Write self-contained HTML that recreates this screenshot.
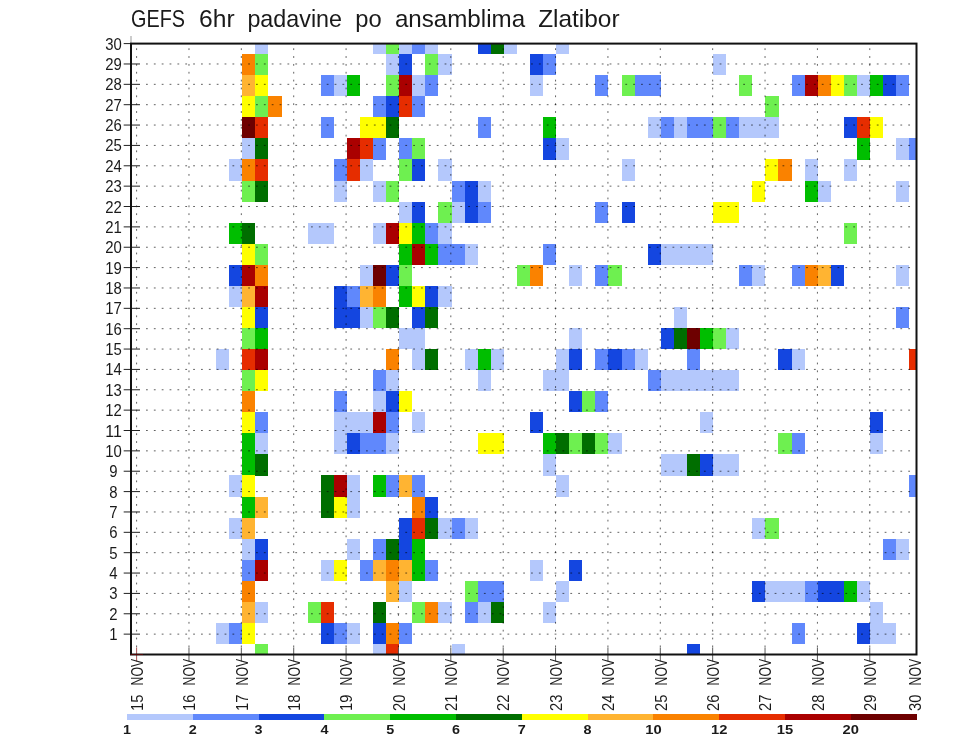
<!DOCTYPE html>
<html><head><meta charset="utf-8"><title>GEFS 6hr padavine po ansamblima Zlatibor</title>
<style>html,body{margin:0;padding:0;background:#fff}svg{display:block}text{font-family:"Liberation Sans",sans-serif;fill:#1a1a1a}</style></head><body>
<svg width="960" height="742" viewBox="0 0 960 742">
<rect width="960" height="742" fill="#fff"/>
<clipPath id="cp"><rect x="131.0" y="43.6" width="785.5" height="610.9"/></clipPath>
<g clip-path="url(#cp)" shape-rendering="crispEdges">
<rect x="255.33" y="33.07" width="13.13" height="21.12" fill="#b4c8fc"/>
<rect x="373.03" y="33.07" width="13.13" height="21.12" fill="#b4c8fc"/>
<rect x="386.11" y="33.07" width="13.13" height="21.12" fill="#6ef050"/>
<rect x="399.19" y="33.07" width="13.13" height="21.12" fill="#b4c8fc"/>
<rect x="412.26" y="33.07" width="13.13" height="21.12" fill="#6088fc"/>
<rect x="425.34" y="33.07" width="13.13" height="21.12" fill="#b4c8fc"/>
<rect x="477.65" y="33.07" width="13.13" height="21.12" fill="#1446e0"/>
<rect x="490.73" y="33.07" width="13.13" height="21.12" fill="#006e00"/>
<rect x="503.81" y="33.07" width="13.13" height="21.12" fill="#b4c8fc"/>
<rect x="556.12" y="33.07" width="13.13" height="21.12" fill="#b4c8fc"/>
<rect x="242.25" y="54.13" width="13.13" height="21.12" fill="#fa8200"/>
<rect x="255.33" y="54.13" width="13.13" height="21.12" fill="#6ef050"/>
<rect x="386.11" y="54.13" width="13.13" height="21.12" fill="#b4c8fc"/>
<rect x="399.19" y="54.13" width="13.13" height="21.12" fill="#1446e0"/>
<rect x="425.34" y="54.13" width="13.13" height="21.12" fill="#6ef050"/>
<rect x="438.42" y="54.13" width="13.13" height="21.12" fill="#b4c8fc"/>
<rect x="529.97" y="54.13" width="13.13" height="21.12" fill="#1446e0"/>
<rect x="543.04" y="54.13" width="13.13" height="21.12" fill="#6088fc"/>
<rect x="713.06" y="54.13" width="13.13" height="21.12" fill="#b4c8fc"/>
<rect x="242.25" y="75.20" width="13.13" height="21.12" fill="#ffb432"/>
<rect x="255.33" y="75.20" width="13.13" height="21.12" fill="#ffff00"/>
<rect x="320.72" y="75.20" width="13.13" height="21.12" fill="#6088fc"/>
<rect x="333.80" y="75.20" width="13.13" height="21.12" fill="#b4c8fc"/>
<rect x="346.87" y="75.20" width="13.13" height="21.12" fill="#00be00"/>
<rect x="386.11" y="75.20" width="13.13" height="21.12" fill="#6ef050"/>
<rect x="399.19" y="75.20" width="13.13" height="21.12" fill="#aa0000"/>
<rect x="412.26" y="75.20" width="13.13" height="21.12" fill="#b4c8fc"/>
<rect x="425.34" y="75.20" width="13.13" height="21.12" fill="#6088fc"/>
<rect x="529.97" y="75.20" width="13.13" height="21.12" fill="#b4c8fc"/>
<rect x="595.36" y="75.20" width="13.13" height="21.12" fill="#6088fc"/>
<rect x="621.51" y="75.20" width="13.13" height="21.12" fill="#6ef050"/>
<rect x="634.59" y="75.20" width="13.13" height="21.12" fill="#6088fc"/>
<rect x="647.67" y="75.20" width="13.13" height="21.12" fill="#6088fc"/>
<rect x="739.21" y="75.20" width="13.13" height="21.12" fill="#6ef050"/>
<rect x="791.53" y="75.20" width="13.13" height="21.12" fill="#6088fc"/>
<rect x="804.60" y="75.20" width="13.13" height="21.12" fill="#aa0000"/>
<rect x="817.68" y="75.20" width="13.13" height="21.12" fill="#fa8200"/>
<rect x="830.76" y="75.20" width="13.13" height="21.12" fill="#ffff00"/>
<rect x="843.84" y="75.20" width="13.13" height="21.12" fill="#6ef050"/>
<rect x="856.92" y="75.20" width="13.13" height="21.12" fill="#b4c8fc"/>
<rect x="869.99" y="75.20" width="13.13" height="21.12" fill="#00be00"/>
<rect x="883.07" y="75.20" width="13.13" height="21.12" fill="#1446e0"/>
<rect x="896.15" y="75.20" width="13.13" height="21.12" fill="#6088fc"/>
<rect x="242.25" y="96.26" width="13.13" height="21.12" fill="#ffff00"/>
<rect x="255.33" y="96.26" width="13.13" height="21.12" fill="#6ef050"/>
<rect x="268.41" y="96.26" width="13.13" height="21.12" fill="#fa8200"/>
<rect x="373.03" y="96.26" width="13.13" height="21.12" fill="#6088fc"/>
<rect x="386.11" y="96.26" width="13.13" height="21.12" fill="#1446e0"/>
<rect x="399.19" y="96.26" width="13.13" height="21.12" fill="#e62d00"/>
<rect x="412.26" y="96.26" width="13.13" height="21.12" fill="#6088fc"/>
<rect x="765.37" y="96.26" width="13.13" height="21.12" fill="#6ef050"/>
<rect x="242.25" y="117.33" width="13.13" height="21.12" fill="#6e0000"/>
<rect x="255.33" y="117.33" width="13.13" height="21.12" fill="#e62d00"/>
<rect x="320.72" y="117.33" width="13.13" height="21.12" fill="#6088fc"/>
<rect x="359.95" y="117.33" width="13.13" height="21.12" fill="#ffff00"/>
<rect x="373.03" y="117.33" width="13.13" height="21.12" fill="#ffff00"/>
<rect x="386.11" y="117.33" width="13.13" height="21.12" fill="#006e00"/>
<rect x="477.65" y="117.33" width="13.13" height="21.12" fill="#6088fc"/>
<rect x="543.04" y="117.33" width="13.13" height="21.12" fill="#00be00"/>
<rect x="647.67" y="117.33" width="13.13" height="21.12" fill="#b4c8fc"/>
<rect x="660.75" y="117.33" width="13.13" height="21.12" fill="#6088fc"/>
<rect x="673.82" y="117.33" width="13.13" height="21.12" fill="#b4c8fc"/>
<rect x="686.90" y="117.33" width="13.13" height="21.12" fill="#6088fc"/>
<rect x="699.98" y="117.33" width="13.13" height="21.12" fill="#6088fc"/>
<rect x="713.06" y="117.33" width="13.13" height="21.12" fill="#6ef050"/>
<rect x="726.14" y="117.33" width="13.13" height="21.12" fill="#6088fc"/>
<rect x="739.21" y="117.33" width="13.13" height="21.12" fill="#b4c8fc"/>
<rect x="752.29" y="117.33" width="13.13" height="21.12" fill="#b4c8fc"/>
<rect x="765.37" y="117.33" width="13.13" height="21.12" fill="#b4c8fc"/>
<rect x="843.84" y="117.33" width="13.13" height="21.12" fill="#1446e0"/>
<rect x="856.92" y="117.33" width="13.13" height="21.12" fill="#e62d00"/>
<rect x="869.99" y="117.33" width="13.13" height="21.12" fill="#ffff00"/>
<rect x="242.25" y="138.39" width="13.13" height="21.12" fill="#b4c8fc"/>
<rect x="255.33" y="138.39" width="13.13" height="21.12" fill="#006e00"/>
<rect x="346.87" y="138.39" width="13.13" height="21.12" fill="#aa0000"/>
<rect x="359.95" y="138.39" width="13.13" height="21.12" fill="#e62d00"/>
<rect x="373.03" y="138.39" width="13.13" height="21.12" fill="#6088fc"/>
<rect x="399.19" y="138.39" width="13.13" height="21.12" fill="#6088fc"/>
<rect x="412.26" y="138.39" width="13.13" height="21.12" fill="#6ef050"/>
<rect x="543.04" y="138.39" width="13.13" height="21.12" fill="#1446e0"/>
<rect x="556.12" y="138.39" width="13.13" height="21.12" fill="#b4c8fc"/>
<rect x="856.92" y="138.39" width="13.13" height="21.12" fill="#00be00"/>
<rect x="896.15" y="138.39" width="13.13" height="21.12" fill="#b4c8fc"/>
<rect x="909.23" y="138.39" width="13.13" height="21.12" fill="#6088fc"/>
<rect x="229.17" y="159.46" width="13.13" height="21.12" fill="#b4c8fc"/>
<rect x="242.25" y="159.46" width="13.13" height="21.12" fill="#fa8200"/>
<rect x="255.33" y="159.46" width="13.13" height="21.12" fill="#e62d00"/>
<rect x="333.80" y="159.46" width="13.13" height="21.12" fill="#6088fc"/>
<rect x="346.87" y="159.46" width="13.13" height="21.12" fill="#e62d00"/>
<rect x="359.95" y="159.46" width="13.13" height="21.12" fill="#b4c8fc"/>
<rect x="399.19" y="159.46" width="13.13" height="21.12" fill="#6ef050"/>
<rect x="412.26" y="159.46" width="13.13" height="21.12" fill="#1446e0"/>
<rect x="438.42" y="159.46" width="13.13" height="21.12" fill="#b4c8fc"/>
<rect x="621.51" y="159.46" width="13.13" height="21.12" fill="#b4c8fc"/>
<rect x="765.37" y="159.46" width="13.13" height="21.12" fill="#ffff00"/>
<rect x="778.45" y="159.46" width="13.13" height="21.12" fill="#fa8200"/>
<rect x="804.60" y="159.46" width="13.13" height="21.12" fill="#b4c8fc"/>
<rect x="843.84" y="159.46" width="13.13" height="21.12" fill="#b4c8fc"/>
<rect x="242.25" y="180.53" width="13.13" height="21.12" fill="#6ef050"/>
<rect x="255.33" y="180.53" width="13.13" height="21.12" fill="#006e00"/>
<rect x="333.80" y="180.53" width="13.13" height="21.12" fill="#b4c8fc"/>
<rect x="373.03" y="180.53" width="13.13" height="21.12" fill="#b4c8fc"/>
<rect x="386.11" y="180.53" width="13.13" height="21.12" fill="#6ef050"/>
<rect x="451.50" y="180.53" width="13.13" height="21.12" fill="#6088fc"/>
<rect x="464.58" y="180.53" width="13.13" height="21.12" fill="#1446e0"/>
<rect x="477.65" y="180.53" width="13.13" height="21.12" fill="#b4c8fc"/>
<rect x="752.29" y="180.53" width="13.13" height="21.12" fill="#ffff00"/>
<rect x="804.60" y="180.53" width="13.13" height="21.12" fill="#00be00"/>
<rect x="817.68" y="180.53" width="13.13" height="21.12" fill="#b4c8fc"/>
<rect x="896.15" y="180.53" width="13.13" height="21.12" fill="#b4c8fc"/>
<rect x="399.19" y="201.59" width="13.13" height="21.12" fill="#b4c8fc"/>
<rect x="412.26" y="201.59" width="13.13" height="21.12" fill="#1446e0"/>
<rect x="438.42" y="201.59" width="13.13" height="21.12" fill="#6ef050"/>
<rect x="451.50" y="201.59" width="13.13" height="21.12" fill="#b4c8fc"/>
<rect x="464.58" y="201.59" width="13.13" height="21.12" fill="#1446e0"/>
<rect x="477.65" y="201.59" width="13.13" height="21.12" fill="#6088fc"/>
<rect x="595.36" y="201.59" width="13.13" height="21.12" fill="#6088fc"/>
<rect x="621.51" y="201.59" width="13.13" height="21.12" fill="#1446e0"/>
<rect x="713.06" y="201.59" width="13.13" height="21.12" fill="#ffff00"/>
<rect x="726.14" y="201.59" width="13.13" height="21.12" fill="#ffff00"/>
<rect x="229.17" y="222.66" width="13.13" height="21.12" fill="#00be00"/>
<rect x="242.25" y="222.66" width="13.13" height="21.12" fill="#006e00"/>
<rect x="307.64" y="222.66" width="13.13" height="21.12" fill="#b4c8fc"/>
<rect x="320.72" y="222.66" width="13.13" height="21.12" fill="#b4c8fc"/>
<rect x="373.03" y="222.66" width="13.13" height="21.12" fill="#b4c8fc"/>
<rect x="386.11" y="222.66" width="13.13" height="21.12" fill="#aa0000"/>
<rect x="399.19" y="222.66" width="13.13" height="21.12" fill="#ffff00"/>
<rect x="412.26" y="222.66" width="13.13" height="21.12" fill="#00be00"/>
<rect x="425.34" y="222.66" width="13.13" height="21.12" fill="#6088fc"/>
<rect x="438.42" y="222.66" width="13.13" height="21.12" fill="#b4c8fc"/>
<rect x="843.84" y="222.66" width="13.13" height="21.12" fill="#6ef050"/>
<rect x="242.25" y="243.72" width="13.13" height="21.12" fill="#ffff00"/>
<rect x="255.33" y="243.72" width="13.13" height="21.12" fill="#6ef050"/>
<rect x="399.19" y="243.72" width="13.13" height="21.12" fill="#00be00"/>
<rect x="412.26" y="243.72" width="13.13" height="21.12" fill="#aa0000"/>
<rect x="425.34" y="243.72" width="13.13" height="21.12" fill="#00be00"/>
<rect x="438.42" y="243.72" width="13.13" height="21.12" fill="#6088fc"/>
<rect x="451.50" y="243.72" width="13.13" height="21.12" fill="#6088fc"/>
<rect x="464.58" y="243.72" width="13.13" height="21.12" fill="#b4c8fc"/>
<rect x="543.04" y="243.72" width="13.13" height="21.12" fill="#6088fc"/>
<rect x="647.67" y="243.72" width="13.13" height="21.12" fill="#1446e0"/>
<rect x="660.75" y="243.72" width="13.13" height="21.12" fill="#b4c8fc"/>
<rect x="673.82" y="243.72" width="13.13" height="21.12" fill="#b4c8fc"/>
<rect x="686.90" y="243.72" width="13.13" height="21.12" fill="#b4c8fc"/>
<rect x="699.98" y="243.72" width="13.13" height="21.12" fill="#b4c8fc"/>
<rect x="229.17" y="264.79" width="13.13" height="21.12" fill="#1446e0"/>
<rect x="242.25" y="264.79" width="13.13" height="21.12" fill="#aa0000"/>
<rect x="255.33" y="264.79" width="13.13" height="21.12" fill="#fa8200"/>
<rect x="359.95" y="264.79" width="13.13" height="21.12" fill="#b4c8fc"/>
<rect x="373.03" y="264.79" width="13.13" height="21.12" fill="#6e0000"/>
<rect x="386.11" y="264.79" width="13.13" height="21.12" fill="#1446e0"/>
<rect x="399.19" y="264.79" width="13.13" height="21.12" fill="#6ef050"/>
<rect x="516.89" y="264.79" width="13.13" height="21.12" fill="#6ef050"/>
<rect x="529.97" y="264.79" width="13.13" height="21.12" fill="#fa8200"/>
<rect x="569.20" y="264.79" width="13.13" height="21.12" fill="#b4c8fc"/>
<rect x="595.36" y="264.79" width="13.13" height="21.12" fill="#6088fc"/>
<rect x="608.43" y="264.79" width="13.13" height="21.12" fill="#6ef050"/>
<rect x="739.21" y="264.79" width="13.13" height="21.12" fill="#6088fc"/>
<rect x="752.29" y="264.79" width="13.13" height="21.12" fill="#b4c8fc"/>
<rect x="791.53" y="264.79" width="13.13" height="21.12" fill="#6088fc"/>
<rect x="804.60" y="264.79" width="13.13" height="21.12" fill="#fa8200"/>
<rect x="817.68" y="264.79" width="13.13" height="21.12" fill="#ffb432"/>
<rect x="830.76" y="264.79" width="13.13" height="21.12" fill="#1446e0"/>
<rect x="896.15" y="264.79" width="13.13" height="21.12" fill="#b4c8fc"/>
<rect x="229.17" y="285.85" width="13.13" height="21.12" fill="#b4c8fc"/>
<rect x="242.25" y="285.85" width="13.13" height="21.12" fill="#ffb432"/>
<rect x="255.33" y="285.85" width="13.13" height="21.12" fill="#aa0000"/>
<rect x="333.80" y="285.85" width="13.13" height="21.12" fill="#1446e0"/>
<rect x="346.87" y="285.85" width="13.13" height="21.12" fill="#6088fc"/>
<rect x="359.95" y="285.85" width="13.13" height="21.12" fill="#ffb432"/>
<rect x="373.03" y="285.85" width="13.13" height="21.12" fill="#fa8200"/>
<rect x="399.19" y="285.85" width="13.13" height="21.12" fill="#00be00"/>
<rect x="412.26" y="285.85" width="13.13" height="21.12" fill="#ffff00"/>
<rect x="425.34" y="285.85" width="13.13" height="21.12" fill="#1446e0"/>
<rect x="438.42" y="285.85" width="13.13" height="21.12" fill="#b4c8fc"/>
<rect x="242.25" y="306.92" width="13.13" height="21.12" fill="#ffff00"/>
<rect x="255.33" y="306.92" width="13.13" height="21.12" fill="#1446e0"/>
<rect x="333.80" y="306.92" width="13.13" height="21.12" fill="#1446e0"/>
<rect x="346.87" y="306.92" width="13.13" height="21.12" fill="#1446e0"/>
<rect x="359.95" y="306.92" width="13.13" height="21.12" fill="#b4c8fc"/>
<rect x="373.03" y="306.92" width="13.13" height="21.12" fill="#6ef050"/>
<rect x="386.11" y="306.92" width="13.13" height="21.12" fill="#006e00"/>
<rect x="412.26" y="306.92" width="13.13" height="21.12" fill="#1446e0"/>
<rect x="425.34" y="306.92" width="13.13" height="21.12" fill="#006e00"/>
<rect x="673.82" y="306.92" width="13.13" height="21.12" fill="#b4c8fc"/>
<rect x="896.15" y="306.92" width="13.13" height="21.12" fill="#6088fc"/>
<rect x="242.25" y="327.98" width="13.13" height="21.12" fill="#6ef050"/>
<rect x="255.33" y="327.98" width="13.13" height="21.12" fill="#00be00"/>
<rect x="399.19" y="327.98" width="13.13" height="21.12" fill="#b4c8fc"/>
<rect x="412.26" y="327.98" width="13.13" height="21.12" fill="#b4c8fc"/>
<rect x="569.20" y="327.98" width="13.13" height="21.12" fill="#b4c8fc"/>
<rect x="660.75" y="327.98" width="13.13" height="21.12" fill="#1446e0"/>
<rect x="673.82" y="327.98" width="13.13" height="21.12" fill="#006e00"/>
<rect x="686.90" y="327.98" width="13.13" height="21.12" fill="#6e0000"/>
<rect x="699.98" y="327.98" width="13.13" height="21.12" fill="#00be00"/>
<rect x="713.06" y="327.98" width="13.13" height="21.12" fill="#6ef050"/>
<rect x="726.14" y="327.98" width="13.13" height="21.12" fill="#b4c8fc"/>
<rect x="216.09" y="349.05" width="13.13" height="21.12" fill="#b4c8fc"/>
<rect x="242.25" y="349.05" width="13.13" height="21.12" fill="#e62d00"/>
<rect x="255.33" y="349.05" width="13.13" height="21.12" fill="#aa0000"/>
<rect x="386.11" y="349.05" width="13.13" height="21.12" fill="#fa8200"/>
<rect x="412.26" y="349.05" width="13.13" height="21.12" fill="#b4c8fc"/>
<rect x="425.34" y="349.05" width="13.13" height="21.12" fill="#006e00"/>
<rect x="464.58" y="349.05" width="13.13" height="21.12" fill="#b4c8fc"/>
<rect x="477.65" y="349.05" width="13.13" height="21.12" fill="#00be00"/>
<rect x="490.73" y="349.05" width="13.13" height="21.12" fill="#b4c8fc"/>
<rect x="556.12" y="349.05" width="13.13" height="21.12" fill="#b4c8fc"/>
<rect x="569.20" y="349.05" width="13.13" height="21.12" fill="#1446e0"/>
<rect x="595.36" y="349.05" width="13.13" height="21.12" fill="#6088fc"/>
<rect x="608.43" y="349.05" width="13.13" height="21.12" fill="#1446e0"/>
<rect x="621.51" y="349.05" width="13.13" height="21.12" fill="#6088fc"/>
<rect x="634.59" y="349.05" width="13.13" height="21.12" fill="#b4c8fc"/>
<rect x="686.90" y="349.05" width="13.13" height="21.12" fill="#6088fc"/>
<rect x="778.45" y="349.05" width="13.13" height="21.12" fill="#1446e0"/>
<rect x="791.53" y="349.05" width="13.13" height="21.12" fill="#b4c8fc"/>
<rect x="909.23" y="349.05" width="13.13" height="21.12" fill="#e62d00"/>
<rect x="242.25" y="370.12" width="13.13" height="21.12" fill="#6ef050"/>
<rect x="255.33" y="370.12" width="13.13" height="21.12" fill="#ffff00"/>
<rect x="373.03" y="370.12" width="13.13" height="21.12" fill="#6088fc"/>
<rect x="386.11" y="370.12" width="13.13" height="21.12" fill="#b4c8fc"/>
<rect x="477.65" y="370.12" width="13.13" height="21.12" fill="#b4c8fc"/>
<rect x="543.04" y="370.12" width="13.13" height="21.12" fill="#b4c8fc"/>
<rect x="556.12" y="370.12" width="13.13" height="21.12" fill="#b4c8fc"/>
<rect x="647.67" y="370.12" width="13.13" height="21.12" fill="#6088fc"/>
<rect x="660.75" y="370.12" width="13.13" height="21.12" fill="#b4c8fc"/>
<rect x="673.82" y="370.12" width="13.13" height="21.12" fill="#b4c8fc"/>
<rect x="686.90" y="370.12" width="13.13" height="21.12" fill="#b4c8fc"/>
<rect x="699.98" y="370.12" width="13.13" height="21.12" fill="#b4c8fc"/>
<rect x="713.06" y="370.12" width="13.13" height="21.12" fill="#b4c8fc"/>
<rect x="726.14" y="370.12" width="13.13" height="21.12" fill="#b4c8fc"/>
<rect x="242.25" y="391.18" width="13.13" height="21.12" fill="#fa8200"/>
<rect x="333.80" y="391.18" width="13.13" height="21.12" fill="#6088fc"/>
<rect x="373.03" y="391.18" width="13.13" height="21.12" fill="#b4c8fc"/>
<rect x="386.11" y="391.18" width="13.13" height="21.12" fill="#1446e0"/>
<rect x="399.19" y="391.18" width="13.13" height="21.12" fill="#ffff00"/>
<rect x="569.20" y="391.18" width="13.13" height="21.12" fill="#1446e0"/>
<rect x="582.28" y="391.18" width="13.13" height="21.12" fill="#6ef050"/>
<rect x="595.36" y="391.18" width="13.13" height="21.12" fill="#6088fc"/>
<rect x="242.25" y="412.25" width="13.13" height="21.12" fill="#ffff00"/>
<rect x="255.33" y="412.25" width="13.13" height="21.12" fill="#6088fc"/>
<rect x="333.80" y="412.25" width="13.13" height="21.12" fill="#b4c8fc"/>
<rect x="346.87" y="412.25" width="13.13" height="21.12" fill="#b4c8fc"/>
<rect x="359.95" y="412.25" width="13.13" height="21.12" fill="#b4c8fc"/>
<rect x="373.03" y="412.25" width="13.13" height="21.12" fill="#aa0000"/>
<rect x="386.11" y="412.25" width="13.13" height="21.12" fill="#6088fc"/>
<rect x="412.26" y="412.25" width="13.13" height="21.12" fill="#b4c8fc"/>
<rect x="529.97" y="412.25" width="13.13" height="21.12" fill="#1446e0"/>
<rect x="699.98" y="412.25" width="13.13" height="21.12" fill="#b4c8fc"/>
<rect x="869.99" y="412.25" width="13.13" height="21.12" fill="#1446e0"/>
<rect x="242.25" y="433.31" width="13.13" height="21.12" fill="#00be00"/>
<rect x="255.33" y="433.31" width="13.13" height="21.12" fill="#b4c8fc"/>
<rect x="333.80" y="433.31" width="13.13" height="21.12" fill="#b4c8fc"/>
<rect x="346.87" y="433.31" width="13.13" height="21.12" fill="#1446e0"/>
<rect x="359.95" y="433.31" width="13.13" height="21.12" fill="#6088fc"/>
<rect x="373.03" y="433.31" width="13.13" height="21.12" fill="#6088fc"/>
<rect x="386.11" y="433.31" width="13.13" height="21.12" fill="#b4c8fc"/>
<rect x="477.65" y="433.31" width="13.13" height="21.12" fill="#ffff00"/>
<rect x="490.73" y="433.31" width="13.13" height="21.12" fill="#ffff00"/>
<rect x="543.04" y="433.31" width="13.13" height="21.12" fill="#00be00"/>
<rect x="556.12" y="433.31" width="13.13" height="21.12" fill="#006e00"/>
<rect x="569.20" y="433.31" width="13.13" height="21.12" fill="#6ef050"/>
<rect x="582.28" y="433.31" width="13.13" height="21.12" fill="#006e00"/>
<rect x="595.36" y="433.31" width="13.13" height="21.12" fill="#6ef050"/>
<rect x="608.43" y="433.31" width="13.13" height="21.12" fill="#b4c8fc"/>
<rect x="778.45" y="433.31" width="13.13" height="21.12" fill="#6ef050"/>
<rect x="791.53" y="433.31" width="13.13" height="21.12" fill="#6088fc"/>
<rect x="869.99" y="433.31" width="13.13" height="21.12" fill="#b4c8fc"/>
<rect x="242.25" y="454.38" width="13.13" height="21.12" fill="#00be00"/>
<rect x="255.33" y="454.38" width="13.13" height="21.12" fill="#006e00"/>
<rect x="543.04" y="454.38" width="13.13" height="21.12" fill="#b4c8fc"/>
<rect x="660.75" y="454.38" width="13.13" height="21.12" fill="#b4c8fc"/>
<rect x="673.82" y="454.38" width="13.13" height="21.12" fill="#b4c8fc"/>
<rect x="686.90" y="454.38" width="13.13" height="21.12" fill="#006e00"/>
<rect x="699.98" y="454.38" width="13.13" height="21.12" fill="#1446e0"/>
<rect x="713.06" y="454.38" width="13.13" height="21.12" fill="#b4c8fc"/>
<rect x="726.14" y="454.38" width="13.13" height="21.12" fill="#b4c8fc"/>
<rect x="229.17" y="475.44" width="13.13" height="21.12" fill="#b4c8fc"/>
<rect x="242.25" y="475.44" width="13.13" height="21.12" fill="#ffff00"/>
<rect x="320.72" y="475.44" width="13.13" height="21.12" fill="#006e00"/>
<rect x="333.80" y="475.44" width="13.13" height="21.12" fill="#aa0000"/>
<rect x="346.87" y="475.44" width="13.13" height="21.12" fill="#b4c8fc"/>
<rect x="373.03" y="475.44" width="13.13" height="21.12" fill="#00be00"/>
<rect x="386.11" y="475.44" width="13.13" height="21.12" fill="#6088fc"/>
<rect x="399.19" y="475.44" width="13.13" height="21.12" fill="#ffb432"/>
<rect x="412.26" y="475.44" width="13.13" height="21.12" fill="#6088fc"/>
<rect x="556.12" y="475.44" width="13.13" height="21.12" fill="#b4c8fc"/>
<rect x="909.23" y="475.44" width="13.13" height="21.12" fill="#6088fc"/>
<rect x="242.25" y="496.51" width="13.13" height="21.12" fill="#00be00"/>
<rect x="255.33" y="496.51" width="13.13" height="21.12" fill="#ffb432"/>
<rect x="320.72" y="496.51" width="13.13" height="21.12" fill="#006e00"/>
<rect x="333.80" y="496.51" width="13.13" height="21.12" fill="#ffff00"/>
<rect x="346.87" y="496.51" width="13.13" height="21.12" fill="#b4c8fc"/>
<rect x="412.26" y="496.51" width="13.13" height="21.12" fill="#fa8200"/>
<rect x="425.34" y="496.51" width="13.13" height="21.12" fill="#1446e0"/>
<rect x="229.17" y="517.57" width="13.13" height="21.12" fill="#b4c8fc"/>
<rect x="242.25" y="517.57" width="13.13" height="21.12" fill="#ffb432"/>
<rect x="399.19" y="517.57" width="13.13" height="21.12" fill="#1446e0"/>
<rect x="412.26" y="517.57" width="13.13" height="21.12" fill="#e62d00"/>
<rect x="425.34" y="517.57" width="13.13" height="21.12" fill="#006e00"/>
<rect x="438.42" y="517.57" width="13.13" height="21.12" fill="#b4c8fc"/>
<rect x="451.50" y="517.57" width="13.13" height="21.12" fill="#6088fc"/>
<rect x="464.58" y="517.57" width="13.13" height="21.12" fill="#b4c8fc"/>
<rect x="752.29" y="517.57" width="13.13" height="21.12" fill="#b4c8fc"/>
<rect x="765.37" y="517.57" width="13.13" height="21.12" fill="#6ef050"/>
<rect x="242.25" y="538.64" width="13.13" height="21.12" fill="#b4c8fc"/>
<rect x="255.33" y="538.64" width="13.13" height="21.12" fill="#1446e0"/>
<rect x="346.87" y="538.64" width="13.13" height="21.12" fill="#b4c8fc"/>
<rect x="373.03" y="538.64" width="13.13" height="21.12" fill="#6088fc"/>
<rect x="386.11" y="538.64" width="13.13" height="21.12" fill="#006e00"/>
<rect x="399.19" y="538.64" width="13.13" height="21.12" fill="#1446e0"/>
<rect x="412.26" y="538.64" width="13.13" height="21.12" fill="#00be00"/>
<rect x="883.07" y="538.64" width="13.13" height="21.12" fill="#6088fc"/>
<rect x="896.15" y="538.64" width="13.13" height="21.12" fill="#b4c8fc"/>
<rect x="242.25" y="559.71" width="13.13" height="21.12" fill="#6088fc"/>
<rect x="255.33" y="559.71" width="13.13" height="21.12" fill="#aa0000"/>
<rect x="320.72" y="559.71" width="13.13" height="21.12" fill="#b4c8fc"/>
<rect x="333.80" y="559.71" width="13.13" height="21.12" fill="#ffff00"/>
<rect x="359.95" y="559.71" width="13.13" height="21.12" fill="#6088fc"/>
<rect x="373.03" y="559.71" width="13.13" height="21.12" fill="#ffb432"/>
<rect x="386.11" y="559.71" width="13.13" height="21.12" fill="#fa8200"/>
<rect x="399.19" y="559.71" width="13.13" height="21.12" fill="#ffb432"/>
<rect x="412.26" y="559.71" width="13.13" height="21.12" fill="#00be00"/>
<rect x="425.34" y="559.71" width="13.13" height="21.12" fill="#6088fc"/>
<rect x="529.97" y="559.71" width="13.13" height="21.12" fill="#b4c8fc"/>
<rect x="569.20" y="559.71" width="13.13" height="21.12" fill="#1446e0"/>
<rect x="242.25" y="580.77" width="13.13" height="21.12" fill="#fa8200"/>
<rect x="386.11" y="580.77" width="13.13" height="21.12" fill="#ffb432"/>
<rect x="399.19" y="580.77" width="13.13" height="21.12" fill="#b4c8fc"/>
<rect x="464.58" y="580.77" width="13.13" height="21.12" fill="#6ef050"/>
<rect x="477.65" y="580.77" width="13.13" height="21.12" fill="#6088fc"/>
<rect x="490.73" y="580.77" width="13.13" height="21.12" fill="#6088fc"/>
<rect x="556.12" y="580.77" width="13.13" height="21.12" fill="#b4c8fc"/>
<rect x="752.29" y="580.77" width="13.13" height="21.12" fill="#1446e0"/>
<rect x="765.37" y="580.77" width="13.13" height="21.12" fill="#b4c8fc"/>
<rect x="778.45" y="580.77" width="13.13" height="21.12" fill="#b4c8fc"/>
<rect x="791.53" y="580.77" width="13.13" height="21.12" fill="#b4c8fc"/>
<rect x="804.60" y="580.77" width="13.13" height="21.12" fill="#6088fc"/>
<rect x="817.68" y="580.77" width="13.13" height="21.12" fill="#1446e0"/>
<rect x="830.76" y="580.77" width="13.13" height="21.12" fill="#1446e0"/>
<rect x="843.84" y="580.77" width="13.13" height="21.12" fill="#00be00"/>
<rect x="856.92" y="580.77" width="13.13" height="21.12" fill="#b4c8fc"/>
<rect x="242.25" y="601.84" width="13.13" height="21.12" fill="#ffb432"/>
<rect x="255.33" y="601.84" width="13.13" height="21.12" fill="#b4c8fc"/>
<rect x="307.64" y="601.84" width="13.13" height="21.12" fill="#6ef050"/>
<rect x="320.72" y="601.84" width="13.13" height="21.12" fill="#e62d00"/>
<rect x="373.03" y="601.84" width="13.13" height="21.12" fill="#006e00"/>
<rect x="412.26" y="601.84" width="13.13" height="21.12" fill="#6ef050"/>
<rect x="425.34" y="601.84" width="13.13" height="21.12" fill="#fa8200"/>
<rect x="438.42" y="601.84" width="13.13" height="21.12" fill="#b4c8fc"/>
<rect x="464.58" y="601.84" width="13.13" height="21.12" fill="#6088fc"/>
<rect x="477.65" y="601.84" width="13.13" height="21.12" fill="#b4c8fc"/>
<rect x="490.73" y="601.84" width="13.13" height="21.12" fill="#006e00"/>
<rect x="543.04" y="601.84" width="13.13" height="21.12" fill="#b4c8fc"/>
<rect x="869.99" y="601.84" width="13.13" height="21.12" fill="#b4c8fc"/>
<rect x="216.09" y="622.90" width="13.13" height="21.12" fill="#b4c8fc"/>
<rect x="229.17" y="622.90" width="13.13" height="21.12" fill="#6088fc"/>
<rect x="242.25" y="622.90" width="13.13" height="21.12" fill="#ffff00"/>
<rect x="320.72" y="622.90" width="13.13" height="21.12" fill="#1446e0"/>
<rect x="333.80" y="622.90" width="13.13" height="21.12" fill="#6088fc"/>
<rect x="346.87" y="622.90" width="13.13" height="21.12" fill="#b4c8fc"/>
<rect x="373.03" y="622.90" width="13.13" height="21.12" fill="#1446e0"/>
<rect x="386.11" y="622.90" width="13.13" height="21.12" fill="#fa8200"/>
<rect x="399.19" y="622.90" width="13.13" height="21.12" fill="#6088fc"/>
<rect x="791.53" y="622.90" width="13.13" height="21.12" fill="#6088fc"/>
<rect x="856.92" y="622.90" width="13.13" height="21.12" fill="#1446e0"/>
<rect x="869.99" y="622.90" width="13.13" height="21.12" fill="#b4c8fc"/>
<rect x="883.07" y="622.90" width="13.13" height="21.12" fill="#b4c8fc"/>
<rect x="255.33" y="643.97" width="13.13" height="21.12" fill="#6ef050"/>
<rect x="373.03" y="643.97" width="13.13" height="21.12" fill="#b4c8fc"/>
<rect x="386.11" y="643.97" width="13.13" height="21.12" fill="#e62d00"/>
<rect x="451.50" y="643.97" width="13.13" height="21.12" fill="#b4c8fc"/>
<rect x="686.90" y="643.97" width="13.13" height="21.12" fill="#1446e0"/>
</g>
<g stroke="#000" stroke-opacity="0.62" stroke-width="1" fill="none">
<line x1="146.0" y1="634.14" x2="915.5" y2="634.14" stroke-dasharray="1.8 6.058"/>
<line x1="146.0" y1="613.77" x2="915.5" y2="613.77" stroke-dasharray="1.8 6.058"/>
<line x1="146.0" y1="593.41" x2="915.5" y2="593.41" stroke-dasharray="1.8 6.058"/>
<line x1="146.0" y1="573.05" x2="915.5" y2="573.05" stroke-dasharray="1.8 6.058"/>
<line x1="146.0" y1="552.68" x2="915.5" y2="552.68" stroke-dasharray="1.8 6.058"/>
<line x1="146.0" y1="532.32" x2="915.5" y2="532.32" stroke-dasharray="1.8 6.058"/>
<line x1="146.0" y1="511.96" x2="915.5" y2="511.96" stroke-dasharray="1.8 6.058"/>
<line x1="146.0" y1="491.60" x2="915.5" y2="491.60" stroke-dasharray="1.8 6.058"/>
<line x1="146.0" y1="471.23" x2="915.5" y2="471.23" stroke-dasharray="1.8 6.058"/>
<line x1="146.0" y1="450.87" x2="915.5" y2="450.87" stroke-dasharray="1.8 6.058"/>
<line x1="146.0" y1="430.51" x2="915.5" y2="430.51" stroke-dasharray="1.8 6.058"/>
<line x1="146.0" y1="410.14" x2="915.5" y2="410.14" stroke-dasharray="1.8 6.058"/>
<line x1="146.0" y1="389.78" x2="915.5" y2="389.78" stroke-dasharray="1.8 6.058"/>
<line x1="146.0" y1="369.42" x2="915.5" y2="369.42" stroke-dasharray="1.8 6.058"/>
<line x1="146.0" y1="349.06" x2="915.5" y2="349.06" stroke-dasharray="1.8 6.058"/>
<line x1="146.0" y1="328.69" x2="915.5" y2="328.69" stroke-dasharray="1.8 6.058"/>
<line x1="146.0" y1="308.33" x2="915.5" y2="308.33" stroke-dasharray="1.8 6.058"/>
<line x1="146.0" y1="287.97" x2="915.5" y2="287.97" stroke-dasharray="1.8 6.058"/>
<line x1="146.0" y1="267.60" x2="915.5" y2="267.60" stroke-dasharray="1.8 6.058"/>
<line x1="146.0" y1="247.24" x2="915.5" y2="247.24" stroke-dasharray="1.8 6.058"/>
<line x1="146.0" y1="226.88" x2="915.5" y2="226.88" stroke-dasharray="1.8 6.058"/>
<line x1="146.0" y1="206.51" x2="915.5" y2="206.51" stroke-dasharray="1.8 6.058"/>
<line x1="146.0" y1="186.15" x2="915.5" y2="186.15" stroke-dasharray="1.8 6.058"/>
<line x1="146.0" y1="165.79" x2="915.5" y2="165.79" stroke-dasharray="1.8 6.058"/>
<line x1="146.0" y1="145.43" x2="915.5" y2="145.43" stroke-dasharray="1.8 6.058"/>
<line x1="146.0" y1="125.06" x2="915.5" y2="125.06" stroke-dasharray="1.8 6.058"/>
<line x1="146.0" y1="104.70" x2="915.5" y2="104.70" stroke-dasharray="1.8 6.058"/>
<line x1="146.0" y1="84.34" x2="915.5" y2="84.34" stroke-dasharray="1.8 6.058"/>
<line x1="146.0" y1="63.97" x2="915.5" y2="63.97" stroke-dasharray="1.8 6.058"/>
<line x1="136.60" y1="48.25" x2="136.60" y2="648" stroke-dasharray="1.8 6.058"/>
<line x1="188.97" y1="48.25" x2="188.97" y2="648" stroke-dasharray="1.8 6.058"/>
<line x1="241.34" y1="48.25" x2="241.34" y2="648" stroke-dasharray="1.8 6.058"/>
<line x1="293.71" y1="48.25" x2="293.71" y2="648" stroke-dasharray="1.8 6.058"/>
<line x1="346.08" y1="48.25" x2="346.08" y2="648" stroke-dasharray="1.8 6.058"/>
<line x1="398.45" y1="48.25" x2="398.45" y2="648" stroke-dasharray="1.8 6.058"/>
<line x1="450.82" y1="48.25" x2="450.82" y2="648" stroke-dasharray="1.8 6.058"/>
<line x1="503.19" y1="48.25" x2="503.19" y2="648" stroke-dasharray="1.8 6.058"/>
<line x1="555.56" y1="48.25" x2="555.56" y2="648" stroke-dasharray="1.8 6.058"/>
<line x1="607.93" y1="48.25" x2="607.93" y2="648" stroke-dasharray="1.8 6.058"/>
<line x1="660.30" y1="48.25" x2="660.30" y2="648" stroke-dasharray="1.8 6.058"/>
<line x1="712.67" y1="48.25" x2="712.67" y2="648" stroke-dasharray="1.8 6.058"/>
<line x1="765.04" y1="48.25" x2="765.04" y2="648" stroke-dasharray="1.8 6.058"/>
<line x1="817.41" y1="48.25" x2="817.41" y2="648" stroke-dasharray="1.8 6.058"/>
<line x1="869.78" y1="48.25" x2="869.78" y2="648" stroke-dasharray="1.8 6.058"/>
</g>
<g stroke="#222" stroke-width="1">
<line x1="123.7" y1="634.14" x2="140" y2="634.14"/>
<line x1="123.7" y1="613.77" x2="140" y2="613.77"/>
<line x1="123.7" y1="593.41" x2="140" y2="593.41"/>
<line x1="123.7" y1="573.05" x2="140" y2="573.05"/>
<line x1="123.7" y1="552.68" x2="140" y2="552.68"/>
<line x1="123.7" y1="532.32" x2="140" y2="532.32"/>
<line x1="123.7" y1="511.96" x2="140" y2="511.96"/>
<line x1="123.7" y1="491.60" x2="140" y2="491.60"/>
<line x1="123.7" y1="471.23" x2="140" y2="471.23"/>
<line x1="123.7" y1="450.87" x2="140" y2="450.87"/>
<line x1="123.7" y1="430.51" x2="140" y2="430.51"/>
<line x1="123.7" y1="410.14" x2="140" y2="410.14"/>
<line x1="123.7" y1="389.78" x2="140" y2="389.78"/>
<line x1="123.7" y1="369.42" x2="140" y2="369.42"/>
<line x1="123.7" y1="349.06" x2="140" y2="349.06"/>
<line x1="123.7" y1="328.69" x2="140" y2="328.69"/>
<line x1="123.7" y1="308.33" x2="140" y2="308.33"/>
<line x1="123.7" y1="287.97" x2="140" y2="287.97"/>
<line x1="123.7" y1="267.60" x2="140" y2="267.60"/>
<line x1="123.7" y1="247.24" x2="140" y2="247.24"/>
<line x1="123.7" y1="226.88" x2="140" y2="226.88"/>
<line x1="123.7" y1="206.51" x2="140" y2="206.51"/>
<line x1="123.7" y1="186.15" x2="140" y2="186.15"/>
<line x1="123.7" y1="165.79" x2="140" y2="165.79"/>
<line x1="123.7" y1="145.43" x2="140" y2="145.43"/>
<line x1="123.7" y1="125.06" x2="140" y2="125.06"/>
<line x1="123.7" y1="104.70" x2="140" y2="104.70"/>
<line x1="123.7" y1="84.34" x2="140" y2="84.34"/>
<line x1="123.7" y1="63.97" x2="140" y2="63.97"/>
<line x1="123.7" y1="43.60" x2="131" y2="43.60"/>
<line x1="136.60" y1="647.5" x2="136.60" y2="661.5" stroke="#a55"/>
<line x1="188.97" y1="647.5" x2="188.97" y2="661.5" stroke="#5a5a5a"/>
<line x1="241.34" y1="647.5" x2="241.34" y2="661.5" stroke="#5a5a5a"/>
<line x1="293.71" y1="647.5" x2="293.71" y2="661.5" stroke="#5a5a5a"/>
<line x1="346.08" y1="647.5" x2="346.08" y2="661.5" stroke="#5a5a5a"/>
<line x1="398.45" y1="647.5" x2="398.45" y2="661.5" stroke="#5a5a5a"/>
<line x1="450.82" y1="647.5" x2="450.82" y2="661.5" stroke="#5a5a5a"/>
<line x1="503.19" y1="647.5" x2="503.19" y2="661.5" stroke="#5a5a5a"/>
<line x1="555.56" y1="647.5" x2="555.56" y2="661.5" stroke="#5a5a5a"/>
<line x1="607.93" y1="647.5" x2="607.93" y2="661.5" stroke="#5a5a5a"/>
<line x1="660.30" y1="647.5" x2="660.30" y2="661.5" stroke="#5a5a5a"/>
<line x1="712.67" y1="647.5" x2="712.67" y2="661.5" stroke="#5a5a5a"/>
<line x1="765.04" y1="647.5" x2="765.04" y2="661.5" stroke="#5a5a5a"/>
<line x1="817.41" y1="647.5" x2="817.41" y2="661.5" stroke="#5a5a5a"/>
<line x1="869.78" y1="647.5" x2="869.78" y2="661.5" stroke="#5a5a5a"/>
</g>
<line x1="131" y1="36" x2="131" y2="43" stroke="#999" stroke-width="1"/>
<rect x="131.0" y="43.6" width="785.5" height="610.9" fill="none" stroke="#111" stroke-width="2"/>
<line x1="130.5" y1="654.5" x2="143" y2="654.5" stroke="#800" stroke-opacity="0.55" stroke-width="1"/>
<text x="113.5" y="640.14" font-size="16.6" text-anchor="middle" textLength="8.3" lengthAdjust="spacingAndGlyphs">1</text>
<text x="113.5" y="619.77" font-size="16.6" text-anchor="middle" textLength="8.3" lengthAdjust="spacingAndGlyphs">2</text>
<text x="113.5" y="599.41" font-size="16.6" text-anchor="middle" textLength="8.3" lengthAdjust="spacingAndGlyphs">3</text>
<text x="113.5" y="579.05" font-size="16.6" text-anchor="middle" textLength="8.3" lengthAdjust="spacingAndGlyphs">4</text>
<text x="113.5" y="558.68" font-size="16.6" text-anchor="middle" textLength="8.3" lengthAdjust="spacingAndGlyphs">5</text>
<text x="113.5" y="538.32" font-size="16.6" text-anchor="middle" textLength="8.3" lengthAdjust="spacingAndGlyphs">6</text>
<text x="113.5" y="517.96" font-size="16.6" text-anchor="middle" textLength="8.3" lengthAdjust="spacingAndGlyphs">7</text>
<text x="113.5" y="497.60" font-size="16.6" text-anchor="middle" textLength="8.3" lengthAdjust="spacingAndGlyphs">8</text>
<text x="113.5" y="477.23" font-size="16.6" text-anchor="middle" textLength="8.3" lengthAdjust="spacingAndGlyphs">9</text>
<text x="113.5" y="456.87" font-size="16.6" text-anchor="middle" textLength="16.6" lengthAdjust="spacingAndGlyphs">10</text>
<text x="113.5" y="436.51" font-size="16.6" text-anchor="middle" textLength="16.6" lengthAdjust="spacingAndGlyphs">11</text>
<text x="113.5" y="416.14" font-size="16.6" text-anchor="middle" textLength="16.6" lengthAdjust="spacingAndGlyphs">12</text>
<text x="113.5" y="395.78" font-size="16.6" text-anchor="middle" textLength="16.6" lengthAdjust="spacingAndGlyphs">13</text>
<text x="113.5" y="375.42" font-size="16.6" text-anchor="middle" textLength="16.6" lengthAdjust="spacingAndGlyphs">14</text>
<text x="113.5" y="355.06" font-size="16.6" text-anchor="middle" textLength="16.6" lengthAdjust="spacingAndGlyphs">15</text>
<text x="113.5" y="334.69" font-size="16.6" text-anchor="middle" textLength="16.6" lengthAdjust="spacingAndGlyphs">16</text>
<text x="113.5" y="314.33" font-size="16.6" text-anchor="middle" textLength="16.6" lengthAdjust="spacingAndGlyphs">17</text>
<text x="113.5" y="293.97" font-size="16.6" text-anchor="middle" textLength="16.6" lengthAdjust="spacingAndGlyphs">18</text>
<text x="113.5" y="273.60" font-size="16.6" text-anchor="middle" textLength="16.6" lengthAdjust="spacingAndGlyphs">19</text>
<text x="113.5" y="253.24" font-size="16.6" text-anchor="middle" textLength="16.6" lengthAdjust="spacingAndGlyphs">20</text>
<text x="113.5" y="232.88" font-size="16.6" text-anchor="middle" textLength="16.6" lengthAdjust="spacingAndGlyphs">21</text>
<text x="113.5" y="212.51" font-size="16.6" text-anchor="middle" textLength="16.6" lengthAdjust="spacingAndGlyphs">22</text>
<text x="113.5" y="192.15" font-size="16.6" text-anchor="middle" textLength="16.6" lengthAdjust="spacingAndGlyphs">23</text>
<text x="113.5" y="171.79" font-size="16.6" text-anchor="middle" textLength="16.6" lengthAdjust="spacingAndGlyphs">24</text>
<text x="113.5" y="151.43" font-size="16.6" text-anchor="middle" textLength="16.6" lengthAdjust="spacingAndGlyphs">25</text>
<text x="113.5" y="131.06" font-size="16.6" text-anchor="middle" textLength="16.6" lengthAdjust="spacingAndGlyphs">26</text>
<text x="113.5" y="110.70" font-size="16.6" text-anchor="middle" textLength="16.6" lengthAdjust="spacingAndGlyphs">27</text>
<text x="113.5" y="90.34" font-size="16.6" text-anchor="middle" textLength="16.6" lengthAdjust="spacingAndGlyphs">28</text>
<text x="113.5" y="69.97" font-size="16.6" text-anchor="middle" textLength="16.6" lengthAdjust="spacingAndGlyphs">29</text>
<text x="113.5" y="49.90" font-size="16.6" text-anchor="middle" textLength="16.6" lengthAdjust="spacingAndGlyphs">30</text>
<text transform="translate(142.85,710.9) rotate(-90)" font-size="17.2" textLength="16.4" lengthAdjust="spacingAndGlyphs">15</text>
<text transform="translate(142.85,685.4) rotate(-90)" font-size="17.2" textLength="26.5" lengthAdjust="spacingAndGlyphs">NOV</text>
<text transform="translate(195.22,710.9) rotate(-90)" font-size="17.2" textLength="16.4" lengthAdjust="spacingAndGlyphs">16</text>
<text transform="translate(195.22,685.4) rotate(-90)" font-size="17.2" textLength="26.5" lengthAdjust="spacingAndGlyphs">NOV</text>
<text transform="translate(247.59,710.9) rotate(-90)" font-size="17.2" textLength="16.4" lengthAdjust="spacingAndGlyphs">17</text>
<text transform="translate(247.59,685.4) rotate(-90)" font-size="17.2" textLength="26.5" lengthAdjust="spacingAndGlyphs">NOV</text>
<text transform="translate(299.96,710.9) rotate(-90)" font-size="17.2" textLength="16.4" lengthAdjust="spacingAndGlyphs">18</text>
<text transform="translate(299.96,685.4) rotate(-90)" font-size="17.2" textLength="26.5" lengthAdjust="spacingAndGlyphs">NOV</text>
<text transform="translate(352.33,710.9) rotate(-90)" font-size="17.2" textLength="16.4" lengthAdjust="spacingAndGlyphs">19</text>
<text transform="translate(352.33,685.4) rotate(-90)" font-size="17.2" textLength="26.5" lengthAdjust="spacingAndGlyphs">NOV</text>
<text transform="translate(404.70,710.9) rotate(-90)" font-size="17.2" textLength="16.4" lengthAdjust="spacingAndGlyphs">20</text>
<text transform="translate(404.70,685.4) rotate(-90)" font-size="17.2" textLength="26.5" lengthAdjust="spacingAndGlyphs">NOV</text>
<text transform="translate(457.07,710.9) rotate(-90)" font-size="17.2" textLength="16.4" lengthAdjust="spacingAndGlyphs">21</text>
<text transform="translate(457.07,685.4) rotate(-90)" font-size="17.2" textLength="26.5" lengthAdjust="spacingAndGlyphs">NOV</text>
<text transform="translate(509.44,710.9) rotate(-90)" font-size="17.2" textLength="16.4" lengthAdjust="spacingAndGlyphs">22</text>
<text transform="translate(509.44,685.4) rotate(-90)" font-size="17.2" textLength="26.5" lengthAdjust="spacingAndGlyphs">NOV</text>
<text transform="translate(561.81,710.9) rotate(-90)" font-size="17.2" textLength="16.4" lengthAdjust="spacingAndGlyphs">23</text>
<text transform="translate(561.81,685.4) rotate(-90)" font-size="17.2" textLength="26.5" lengthAdjust="spacingAndGlyphs">NOV</text>
<text transform="translate(614.18,710.9) rotate(-90)" font-size="17.2" textLength="16.4" lengthAdjust="spacingAndGlyphs">24</text>
<text transform="translate(614.18,685.4) rotate(-90)" font-size="17.2" textLength="26.5" lengthAdjust="spacingAndGlyphs">NOV</text>
<text transform="translate(666.55,710.9) rotate(-90)" font-size="17.2" textLength="16.4" lengthAdjust="spacingAndGlyphs">25</text>
<text transform="translate(666.55,685.4) rotate(-90)" font-size="17.2" textLength="26.5" lengthAdjust="spacingAndGlyphs">NOV</text>
<text transform="translate(718.92,710.9) rotate(-90)" font-size="17.2" textLength="16.4" lengthAdjust="spacingAndGlyphs">26</text>
<text transform="translate(718.92,685.4) rotate(-90)" font-size="17.2" textLength="26.5" lengthAdjust="spacingAndGlyphs">NOV</text>
<text transform="translate(771.29,710.9) rotate(-90)" font-size="17.2" textLength="16.4" lengthAdjust="spacingAndGlyphs">27</text>
<text transform="translate(771.29,685.4) rotate(-90)" font-size="17.2" textLength="26.5" lengthAdjust="spacingAndGlyphs">NOV</text>
<text transform="translate(823.66,710.9) rotate(-90)" font-size="17.2" textLength="16.4" lengthAdjust="spacingAndGlyphs">28</text>
<text transform="translate(823.66,685.4) rotate(-90)" font-size="17.2" textLength="26.5" lengthAdjust="spacingAndGlyphs">NOV</text>
<text transform="translate(876.03,710.9) rotate(-90)" font-size="17.2" textLength="16.4" lengthAdjust="spacingAndGlyphs">29</text>
<text transform="translate(876.03,685.4) rotate(-90)" font-size="17.2" textLength="26.5" lengthAdjust="spacingAndGlyphs">NOV</text>
<text transform="translate(921.25,710.9) rotate(-90)" font-size="17.2" textLength="16.4" lengthAdjust="spacingAndGlyphs">30</text>
<text transform="translate(921.25,685.4) rotate(-90)" font-size="17.2" textLength="26.5" lengthAdjust="spacingAndGlyphs">NOV</text>
<text x="131.0" y="26.6" font-size="24.4" textLength="54.0" lengthAdjust="spacingAndGlyphs">GEFS</text>
<text x="199.0" y="26.6" font-size="24.4" textLength="35.6" lengthAdjust="spacingAndGlyphs">6hr</text>
<text x="247.4" y="26.6" font-size="24.4" textLength="94.6" lengthAdjust="spacingAndGlyphs">padavine</text>
<text x="355.2" y="26.6" font-size="24.4" textLength="26.4" lengthAdjust="spacingAndGlyphs">po</text>
<text x="394.9" y="26.6" font-size="24.4" textLength="130.2" lengthAdjust="spacingAndGlyphs">ansamblima</text>
<text x="538.2" y="26.6" font-size="24.4" textLength="81.4" lengthAdjust="spacingAndGlyphs">Zlatibor</text>
<g shape-rendering="crispEdges">
<rect x="127.00" y="714.3" width="65.85" height="5.9" fill="#b4c8fc"/>
<rect x="192.80" y="714.3" width="65.85" height="5.9" fill="#6088fc"/>
<rect x="258.60" y="714.3" width="65.85" height="5.9" fill="#1446e0"/>
<rect x="324.40" y="714.3" width="65.85" height="5.9" fill="#6ef050"/>
<rect x="390.20" y="714.3" width="65.85" height="5.9" fill="#00be00"/>
<rect x="456.00" y="714.3" width="65.85" height="5.9" fill="#006e00"/>
<rect x="521.80" y="714.3" width="65.85" height="5.9" fill="#ffff00"/>
<rect x="587.60" y="714.3" width="65.85" height="5.9" fill="#ffb432"/>
<rect x="653.40" y="714.3" width="65.85" height="5.9" fill="#fa8200"/>
<rect x="719.20" y="714.3" width="65.85" height="5.9" fill="#e62d00"/>
<rect x="785.00" y="714.3" width="65.85" height="5.9" fill="#aa0000"/>
<rect x="850.80" y="714.3" width="65.85" height="5.9" fill="#6e0000"/>
</g>
<text x="127.00" y="733.6" font-size="12.8" font-weight="bold" text-anchor="middle" textLength="8.0" lengthAdjust="spacingAndGlyphs">1</text>
<text x="192.80" y="733.6" font-size="12.8" font-weight="bold" text-anchor="middle" textLength="8.0" lengthAdjust="spacingAndGlyphs">2</text>
<text x="258.60" y="733.6" font-size="12.8" font-weight="bold" text-anchor="middle" textLength="8.0" lengthAdjust="spacingAndGlyphs">3</text>
<text x="324.40" y="733.6" font-size="12.8" font-weight="bold" text-anchor="middle" textLength="8.0" lengthAdjust="spacingAndGlyphs">4</text>
<text x="390.20" y="733.6" font-size="12.8" font-weight="bold" text-anchor="middle" textLength="8.0" lengthAdjust="spacingAndGlyphs">5</text>
<text x="456.00" y="733.6" font-size="12.8" font-weight="bold" text-anchor="middle" textLength="8.0" lengthAdjust="spacingAndGlyphs">6</text>
<text x="521.80" y="733.6" font-size="12.8" font-weight="bold" text-anchor="middle" textLength="8.0" lengthAdjust="spacingAndGlyphs">7</text>
<text x="587.60" y="733.6" font-size="12.8" font-weight="bold" text-anchor="middle" textLength="8.0" lengthAdjust="spacingAndGlyphs">8</text>
<text x="653.40" y="733.6" font-size="12.8" font-weight="bold" text-anchor="middle" textLength="16.4" lengthAdjust="spacingAndGlyphs">10</text>
<text x="719.20" y="733.6" font-size="12.8" font-weight="bold" text-anchor="middle" textLength="16.4" lengthAdjust="spacingAndGlyphs">12</text>
<text x="785.00" y="733.6" font-size="12.8" font-weight="bold" text-anchor="middle" textLength="16.4" lengthAdjust="spacingAndGlyphs">15</text>
<text x="850.80" y="733.6" font-size="12.8" font-weight="bold" text-anchor="middle" textLength="16.4" lengthAdjust="spacingAndGlyphs">20</text>
</svg></body></html>
